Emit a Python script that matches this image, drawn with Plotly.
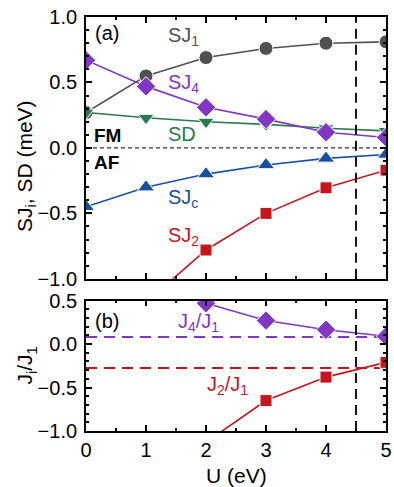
import plotly.graph_objects as go

U = [0, 1, 2, 3, 4, 5]
SJ1 = [0.27, 0.55, 0.69, 0.76, 0.80, 0.81]
SJ4 = [0.67, 0.47, 0.31, 0.22, 0.12, 0.08]
SD = [0.27, 0.23, 0.20, 0.18, 0.15, 0.13]
SJc = [-0.45, -0.30, -0.20, -0.13, -0.08, -0.05]
U_J2 = [1, 2, 3, 4, 5]
SJ2 = [-1.18, -0.78, -0.50, -0.305, -0.17]
U_ratio = [2, 3, 4, 5]
J4_J1 = [0.47, 0.27, 0.165, 0.09]
U_ratio2 = [2, 3, 4, 5]
J2_J1 = [-1.13, -0.65, -0.38, -0.21]
ref_J4_J1 = 0.082
ref_J2_J1 = -0.275
U_exp = 4.5

GRAY = "#505050"
PURPLE = "#8236c4"
GREEN = "#2a7a4c"
BLUE = "#17509e"
RED = "#c4161c"
FONT = "Liberation Sans, Arial, sans-serif"

fig = go.Figure()

def add(x, y, color, symbol, size, xa="x", ya="y"):
    fig.add_trace(go.Scatter(
        x=x, y=y, mode="lines+markers", xaxis=xa, yaxis=ya,
        line=dict(color=color, width=1.6),
        marker=dict(color=color, symbol=symbol, size=size,
                    line=dict(color="white", width=1)),
        showlegend=False, cliponaxis=True))

# reference dashed lines (bottom)
fig.add_trace(go.Scatter(x=[0, 5], y=[ref_J4_J1, ref_J4_J1], mode="lines",
                         xaxis="x2", yaxis="y2", showlegend=False,
                         line=dict(color=PURPLE, width=2, dash="11px,7px")))
fig.add_trace(go.Scatter(x=[0, 5], y=[ref_J2_J1, ref_J2_J1], mode="lines",
                         xaxis="x2", yaxis="y2", showlegend=False,
                         line=dict(color=RED, width=2, dash="11px,7px")))

add(U, SJ1, GRAY, "circle", 14)
add(U, SD, GREEN, "triangle-down", 14)
add(U, SJ4, PURPLE, "diamond", 15)
add(U, SJc, BLUE, "triangle-up", 15)
add(U_J2, SJ2, RED, "square", 12)
add(U_ratio, J4_J1, PURPLE, "diamond", 15, "x2", "y2")
add(U_ratio2, J2_J1, RED, "square", 12, "x2", "y2")

axis_common = dict(
    showline=True, linecolor="black", linewidth=1.8, mirror="ticks",
    ticks="inside", ticklen=6, tickwidth=1.5, tickcolor="black",
    showgrid=False, zeroline=False, automargin=False,
    tickfont=dict(family=FONT, size=20, color="black"),
)
minor = dict(ticks="inside", ticklen=3, tickwidth=1.5, tickcolor="black", showgrid=False)

top_dom = [0.3676, 1.0]
bot_dom = [0.0, 0.315]

fig.update_layout(
    width=394, height=487,
    margin=dict(l=86, r=8, t=17, b=56),
    plot_bgcolor="white", paper_bgcolor="white",
    font=dict(family=FONT, size=20, color="black"),
    xaxis=dict(axis_common, range=[0, 5], dtick=1, showticklabels=False,
               domain=[0, 1], anchor="y", minor=dict(minor, dtick=0.5)),
    yaxis=dict(axis_common, range=[-1.0, 1.0], dtick=0.5, tickformat=".1f",
               domain=top_dom, anchor="x", ticklabelstandoff=3,
               minor=dict(minor, dtick=0.1)),
    xaxis2=dict(axis_common, range=[0, 5], dtick=1, domain=[0, 1], anchor="y2",
                matches="x", minor=dict(minor, dtick=0.5)),
    yaxis2=dict(axis_common, range=[-1.0, 0.5], dtick=0.5, tickformat=".1f",
                domain=bot_dom, anchor="x2", ticklabelstandoff=3,
                minor=dict(minor, dtick=0.1)),
)

# vertical dashed line at U = 4.5 in both panels, zero line in top panel
for xr, yr in [("x", "y domain"), ("x2", "y2 domain")]:
    fig.add_shape(type="line", xref=xr, yref=yr, x0=U_exp, x1=U_exp, y0=0, y1=1,
                  line=dict(color="black", width=1.8, dash="10px,6px"))
fig.add_shape(type="line", xref="x domain", yref="y", x0=0, x1=1, y0=0, y1=0,
              line=dict(color="black", width=1, dash="4px,3px"))

def ann(text, x, y, color, xref="x", yref="y", bold=False, size=20, **kw):
    fig.add_annotation(text=f"<b>{text}</b>" if bold else text, x=x, y=y,
                       xref=xref, yref=yref, showarrow=False,
                       xanchor=kw.pop("xanchor", "left"), yanchor="middle",
                       font=dict(family=FONT, size=size, color=color), **kw)

ann("(a)", 0.12, 0.88, "black")
ann("SJ<sub>1</sub>", 1.34, 0.85, GRAY)
ann("SJ<sub>4</sub>", 1.34, 0.49, PURPLE)
ann("SD", 1.34, 0.105, GREEN)
ann("FM", 0.1, 0.095, "black", bold=True, size=19)
ann("AF", 0.1, -0.115, "black", bold=True, size=19)
ann("SJ<sub>c</sub>", 1.34, -0.39, BLUE)
ann("SJ<sub>2</sub>", 1.34, -0.68, RED)
ann("(b)", 0.12, 0.26, "black", xref="x2", yref="y2")
ann("J<sub>4</sub>/J<sub>1</sub>", 1.5, 0.245, PURPLE, xref="x2", yref="y2")
ann("J<sub>2</sub>/J<sub>1</sub>", 1.98, -0.475, RED, xref="x2", yref="y2")

# axis titles
ann("SJ<sub>i</sub>, SD (meV)", -60 / 300, 0.64, "black", xref="paper", yref="paper",
    textangle=-90, xanchor="center", size=21)
ann("J<sub>i</sub>/J<sub>1</sub>", -60 / 300, 0.158, "black", xref="paper", yref="paper",
    textangle=-90, xanchor="center", size=21)
ann("U (eV)", 0.5, -0.108, "black", xref="paper", yref="paper", xanchor="center", size=21)

fig.write_html("out.html", config={"displayModeBar": False},
               post_script="document.body.style.margin='0';document.body.style.padding='0';")
